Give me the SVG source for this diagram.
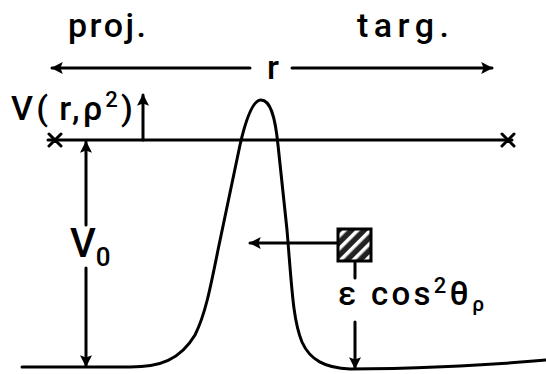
<svg xmlns="http://www.w3.org/2000/svg" width="546" height="374" viewBox="0 0 546 374">
<style>
.ln{stroke:#000;stroke-width:3;fill:none;stroke-linecap:round}
.tx{font-family:Roboto,"DejaVu Sans",sans-serif;fill:#000;font-weight:500}
</style>
<defs>
<marker id="ah" viewBox="0 0 10 10" refX="9" refY="5" markerWidth="4" markerHeight="4" orient="auto" markerUnits="strokeWidth">
<path d="M0,0 L10,5 L0,10 L2,5 z" fill="#000"/>
</marker>
<pattern id="hatch" width="9" height="9" patternUnits="userSpaceOnUse" patternTransform="rotate(45)">
<rect width="9" height="9" fill="#222"/>
<rect x="0" y="0" width="3.5" height="9" fill="#fff"/>
</pattern>
</defs>
<rect width="546" height="374" fill="#fff"/>
<g id="labels">
<text class="tx" x="68" y="37" font-size="34" textLength="78" lengthAdjust="spacing">proj.</text>
<text class="tx" x="357" y="37" font-size="34" textLength="92" lengthAdjust="spacing">targ.</text>
<text class="tx" x="267" y="79" font-size="34">r</text>
<text class="tx" x="11" y="120" font-size="34" textLength="122" lengthAdjust="spacing">V(<tspan dx="8">r,ρ</tspan><tspan dy="-13" font-size="22">2</tspan><tspan dy="13">)</tspan></text>
<text class="tx" x="70" y="257" font-size="40">V<tspan font-size="26" dy="9">0</tspan></text>
<text class="tx" x="338" y="305" font-size="33" textLength="146" lengthAdjust="spacing">ε cos<tspan font-size="22" dy="-12">2</tspan><tspan dy="12">θ</tspan><tspan font-size="21" dy="6">ρ</tspan></text>
</g>
<g id="connectors">
<line class="ln" x1="250" y1="68" x2="52" y2="68" marker-end="url(#ah)"/>
<line class="ln" x1="292" y1="68" x2="492" y2="68" marker-end="url(#ah)"/>
<line class="ln" x1="143" y1="140" x2="143" y2="95" stroke-width="2.5" marker-end="url(#ah)"/>
<line class="ln" x1="48" y1="140" x2="512" y2="140"/>
<path class="ln" d="M49,134 L61,146 M49,146 L61,134 M502,134 L514,146 M502,146 L514,134" stroke-width="3.5"/>
<line class="ln" x1="86" y1="225" x2="86" y2="142" marker-end="url(#ah)"/>
<line class="ln" x1="86" y1="268" x2="86" y2="366" marker-end="url(#ah)"/>
<line class="ln" x1="337" y1="243" x2="250" y2="243" marker-end="url(#ah)"/>
<line class="ln" x1="355" y1="262" x2="355" y2="278" stroke-width="2.5"/>
<line class="ln" x1="355" y1="322" x2="355" y2="368" stroke-width="2.5" marker-end="url(#ah)"/>
</g>
<g id="potential">
<path class="ln" d="M22,367 L130,367 C160,367 180,360 195,335 C205,315 210,290 218,250 L240,145 C248,110 255,100 261,100 C270,100 275,115 278,145 L287,230 C292,290 293,320 302,342 C310,360 325,368 350,369 C400,369 480,366 546,360"/>
</g>
<g id="box">
<rect x="338" y="229" width="33" height="32" fill="url(#hatch)" stroke="#000" stroke-width="3"/>
</g>
</svg>
